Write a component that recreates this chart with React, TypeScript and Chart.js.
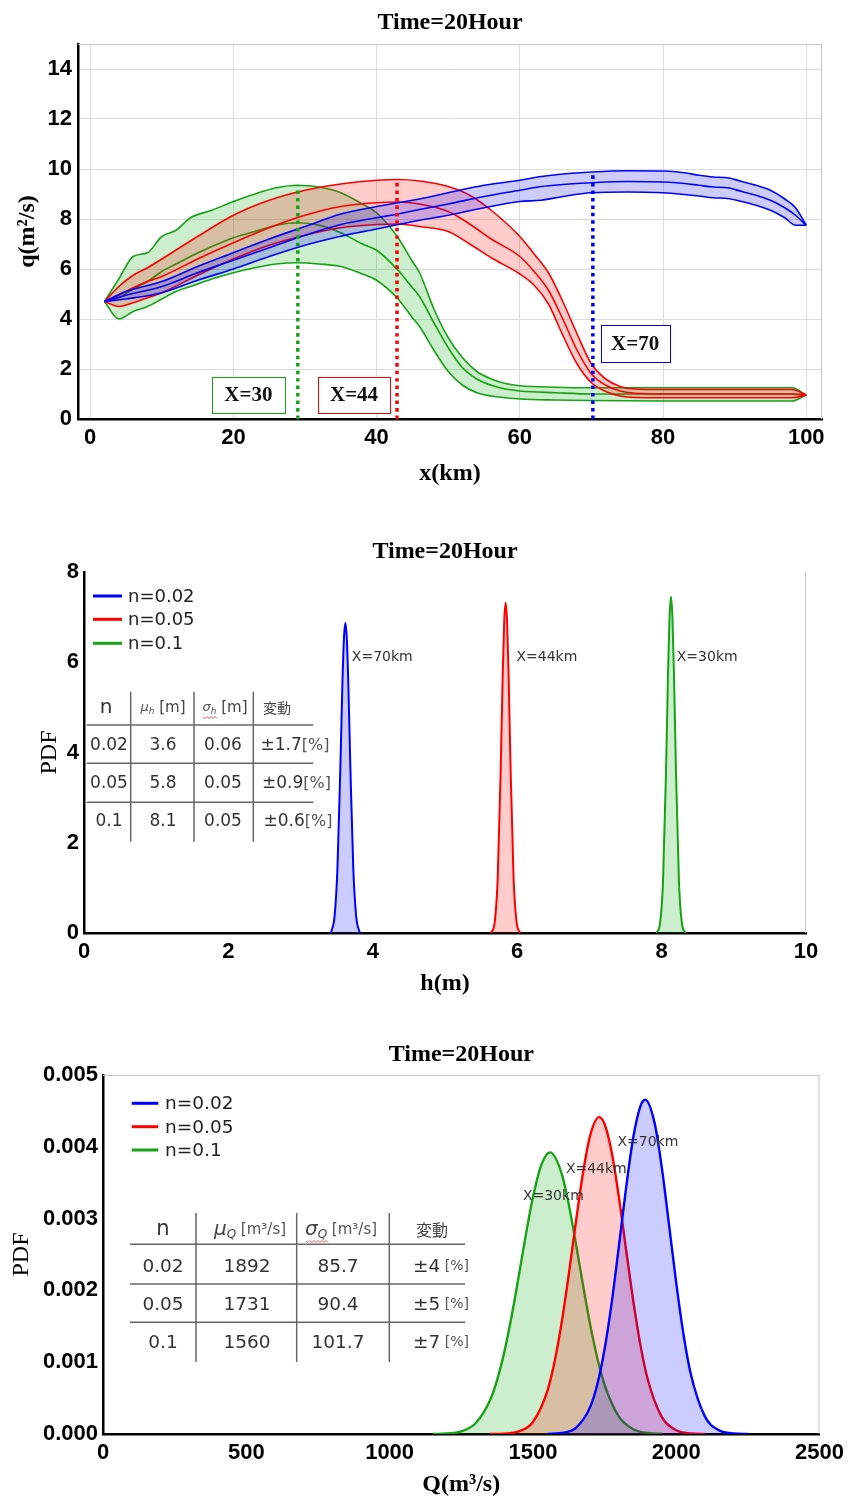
import React, { useEffect, useRef } from "react";
import { Chart, registerables } from "chart.js";

Chart.register(...registerables);

// ------------------------------------------------------------------
// Shared labels / colours
// ------------------------------------------------------------------
const TITLE = "Time=20Hour";
const SERIES_NAMES = ["n=0.02", "n=0.05", "n=0.1"];
const LINE_COLORS = ["#0000ff", "#ff0000", "#16a316"];
const FILL_COLORS = ["rgba(0,0,255,0.2)", "rgba(255,0,0,0.2)", "rgba(0,170,0,0.2)"];

// ------------------------------------------------------------------
// Panel 1 : q(m2/s) along x(km) — mean and ± band for each n
// ------------------------------------------------------------------
const blueX = [2, 5, 10, 15, 20, 25, 30, 35, 40, 43, 46, 50, 55, 60, 63, 66, 70, 75, 80, 83, 85, 87, 89, 91, 93, 95, 97, 98.5, 100];
const blueUpper = [4.7, 5.1, 5.5, 6.1, 6.65, 7.2, 7.7, 8.2, 8.5, 8.65, 8.8, 9.05, 9.35, 9.55, 9.7, 9.8, 9.88, 9.93, 9.92, 9.85, 9.75, 9.68, 9.65, 9.5, 9.35, 9.15, 8.8, 8.45, 7.75];
const blueMid = [4.7, 4.95, 5.3, 5.85, 6.35, 6.85, 7.35, 7.78, 8.05, 8.2, 8.38, 8.6, 8.9, 9.15, 9.3, 9.38, 9.45, 9.5, 9.48, 9.42, 9.35, 9.28, 9.25, 9.1, 8.95, 8.75, 8.45, 8.15, 7.75];
const blueLower = [4.7, 4.8, 5.05, 5.55, 6.0, 6.5, 6.95, 7.31, 7.6, 7.78, 7.95, 8.15, 8.45, 8.7, 8.75, 8.9, 9.05, 9.08, 9.05, 8.98, 8.92, 8.85, 8.82, 8.7, 8.55, 8.35, 8.05, 7.75, 7.75];

const redX = [2, 4, 6, 8, 10, 15, 20, 25, 30, 35, 40, 43, 46, 50, 53, 56, 60, 62, 64, 66, 68, 70, 72, 74, 76, 80, 90, 98, 100];
const redUpper = [4.7, 5.3, 5.75, 6.05, 6.4, 7.3, 8.15, 8.75, 9.15, 9.4, 9.55, 9.58, 9.52, 9.3, 8.95, 8.35, 7.3, 6.6, 5.85, 4.7, 3.4, 2.2, 1.6, 1.3, 1.2, 1.18, 1.18, 1.18, 0.96];
const redMid = [4.7, 4.95, 5.25, 5.5, 5.7, 6.4, 7.05, 7.65, 8.15, 8.5, 8.65, 8.68, 8.6, 8.3, 7.8, 7.2, 6.5, 5.9, 5.15, 4.0, 2.75, 1.8, 1.35, 1.12, 1.03, 1.0, 1.0, 1.0, 0.96];
const redLower = [4.7, 4.5, 4.65, 4.85, 5.05, 5.75, 6.4, 6.95, 7.35, 7.65, 7.78, 7.8, 7.7, 7.5, 7.0, 6.45, 5.8, 5.35, 4.6, 3.35, 2.2, 1.45, 1.1, 0.92, 0.86, 0.85, 0.85, 0.85, 0.96];

const greenX = [2, 4, 6, 8, 10, 12, 14, 17, 20, 23, 26, 29, 32, 35, 38, 40, 43, 45, 46, 48, 50, 52, 54, 56, 58, 60, 65, 70, 80, 90, 98, 100];
const greenUpper = [4.7, 5.6, 6.5, 6.65, 7.3, 7.55, 8.05, 8.35, 8.7, 9.0, 9.25, 9.35, 9.28, 9.05, 8.6, 8.25, 7.25, 6.3, 5.85, 4.4, 3.25, 2.45, 1.9, 1.6, 1.42, 1.33, 1.27, 1.25, 1.25, 1.25, 1.25, 0.96];
const greenMid = [4.7, 4.85, 5.2, 5.5, 5.9, 6.2, 6.5, 6.9, 7.25, 7.5, 7.75, 7.85, 7.75, 7.45, 7.0, 6.75, 5.95, 5.25, 4.9, 3.85, 2.85, 2.05, 1.6, 1.35, 1.2, 1.12, 1.05, 1.0, 1.0, 1.0, 1.0, 0.96];
const greenLower = [4.7, 4.0, 4.3, 4.5, 4.8, 5.1, 5.3, 5.6, 5.85, 6.05, 6.2, 6.25, 6.2, 6.1, 5.8, 5.55, 4.8, 4.05, 3.7, 2.75, 1.9, 1.35, 1.05, 0.92, 0.85, 0.8, 0.76, 0.74, 0.72, 0.72, 0.72, 0.96];

// dotted section markers
const markerX = [29, 42.85, 70.2];
const markerTop = [9.35, 9.59, 9.9];
const markerSeries = [2, 1, 0];
const markerLabels = ["X=30", "X=44", "X=70"];

// ------------------------------------------------------------------
// Panel 2 : PDF of h(m)
// ------------------------------------------------------------------
const hBlueX = [3.42, 3.47, 3.51, 3.55, 3.58, 3.6, 3.62, 3.64, 3.66, 3.69, 3.73, 3.77, 3.82];
const hBlueY = [0, 0.37, 1.42, 3.63, 5.58, 6.52, 6.87, 6.52, 5.58, 3.63, 1.42, 0.37, 0];
const hRedX = [5.64, 5.69, 5.73, 5.77, 5.8, 5.82, 5.84, 5.86, 5.88, 5.91, 5.95, 5.99, 6.04];
const hRedY = [0, 0.26, 1.21, 3.53, 5.77, 6.9, 7.32, 6.9, 5.77, 3.53, 1.21, 0.26, 0];
const hGreenX = [7.93, 7.98, 8.02, 8.06, 8.09, 8.11, 8.13, 8.15, 8.17, 8.2, 8.24, 8.28, 8.33];
const hGreenY = [0, 0.23, 1.16, 3.51, 5.82, 7.0, 7.45, 7.0, 5.82, 3.51, 1.16, 0.23, 0];

const peakLabels = ["X=70km", "X=44km", "X=30km"];
const hLabelX = [3.71, 5.99, 8.21];
const hLabelY = [6.11, 6.11, 6.11];

const tableN = ["0.02", "0.05", "0.1"];
const hMean = ["3.6", "5.8", "8.1"];
const hStd = ["0.06", "0.05", "0.05"];
const hVar = ["±1.7", "±0.9", "±0.6"];

// ------------------------------------------------------------------
// Panel 3 : PDF of Q(m3/s)
// ------------------------------------------------------------------
const qBlueX = [1550, 1600, 1650, 1700, 1725, 1750, 1775, 1800, 1825, 1850, 1875, 1892, 1925, 1950, 1975, 2000, 2025, 2050, 2100, 2150, 2200, 2250];
const qBlueY = [0.0000016, 0.000014, 0.0000864, 0.000378, 0.000697, 0.00118, 0.001833, 0.002616, 0.003429, 0.00413, 0.004564, 0.004655, 0.004323, 0.003702, 0.002912, 0.002104, 0.001396, 0.00085, 0.000245, 0.0000501, 0.0000073, 0];
const qRedX = [1350, 1400, 1450, 1500, 1550, 1575, 1600, 1625, 1650, 1675, 1700, 1731, 1750, 1775, 1800, 1825, 1850, 1875, 1900, 1950, 2000, 2050, 2100];
const qRedY = [0.0000006, 0.0000054, 0.0000352, 0.000168, 0.000595, 0.000996, 0.001544, 0.002219, 0.002954, 0.003643, 0.004161, 0.004413, 0.004317, 0.00392, 0.003299, 0.00257, 0.001856, 0.001241, 0.000769, 0.000234, 0.0000527, 0.0000087, 0.000001];
const qGreenX = [1150, 1200, 1250, 1300, 1350, 1375, 1400, 1425, 1450, 1475, 1500, 1530, 1560, 1600, 1625, 1650, 1675, 1700, 1725, 1750, 1800, 1850, 1900, 1950];
const qGreenY = [0.0000012, 0.0000075, 0.0000377, 0.00015, 0.000465, 0.00075, 0.001138, 0.001626, 0.002185, 0.002767, 0.003296, 0.003756, 0.003923, 0.003631, 0.003198, 0.002652, 0.00207, 0.00152, 0.001052, 0.000685, 0.000242, 0.0000672, 0.0000147, 0.0000025];

const qLabelX = [1795, 1615, 1465];
const qLabelY = [0.004057, 0.003687, 0.003305];

const qMean = ["1892", "1731", "1560"];
const qStd = ["85.7", "90.4", "101.7"];
const qVar = ["±4", "±5", "±7"];

// ------------------------------------------------------------------
// Fonts & helpers
// ------------------------------------------------------------------
const SANS = "'Liberation Sans', Arial, sans-serif";
const SERIF = "'Liberation Serif', 'Times New Roman', serif";
const VERD = "'DejaVu Sans', Verdana, sans-serif";
const CJK = "'Noto Sans CJK JP', 'Noto Sans CJK SC', sans-serif";

const tickFont = { family: SANS, size: 22, weight: "bold" as const };
const titleFontBold = { family: SERIF, size: 24, weight: "bold" as const };
const titleFontReg = { family: SERIF, size: 24, weight: "normal" as const };

const pts = (xs: number[], ys: number[]) => xs.map((x, i) => ({ x, y: ys[i] }));

type Seg = { t: string; font: string; color?: string; dy?: number };

function richWidth(ctx: CanvasRenderingContext2D, segs: Seg[]) {
  let w = 0;
  for (const s of segs) {
    ctx.font = s.font;
    w += ctx.measureText(s.t).width;
  }
  return w;
}

function drawRich(ctx: CanvasRenderingContext2D, segs: Seg[], x: number, y: number, align: "left" | "center") {
  let cx = align === "center" ? x - richWidth(ctx, segs) / 2 : x;
  ctx.textAlign = "left";
  ctx.textBaseline = "middle";
  for (const s of segs) {
    ctx.font = s.font;
    ctx.fillStyle = s.color || "#333";
    ctx.fillText(s.t, cx, y + (s.dy || 0));
    cx += ctx.measureText(s.t).width;
  }
}

function seg(ctx: CanvasRenderingContext2D, x1: number, y1: number, x2: number, y2: number) {
  ctx.beginPath();
  ctx.moveTo(x1, y1);
  ctx.lineTo(x2, y2);
  ctx.stroke();
}

function squiggle(ctx: CanvasRenderingContext2D, x: number, y: number, w: number) {
  ctx.save();
  ctx.strokeStyle = "#e05050";
  ctx.lineWidth = 1;
  ctx.beginPath();
  ctx.moveTo(x, y);
  for (let i = 0; i * 2 < w; i++) ctx.lineTo(x + i * 2 + 2, y + (i % 2 === 0 ? 1.5 : -0.5));
  ctx.stroke();
  ctx.restore();
}

function drawTitle(chart: any, y: number) {
  const { ctx, chartArea } = chart;
  ctx.save();
  ctx.font = `bold 24px ${SERIF}`;
  ctx.fillStyle = "#000";
  ctx.textAlign = "center";
  ctx.textBaseline = "middle";
  ctx.fillText(TITLE, (chartArea.left + chartArea.right) / 2, y);
  ctx.restore();
}

function drawFrame(chart: any, top: boolean) {
  const { ctx, chartArea } = chart;
  ctx.save();
  ctx.strokeStyle = "#c8c8c8";
  ctx.lineWidth = 1;
  if (top) seg(ctx, chartArea.left, chartArea.top + 0.5, chartArea.right, chartArea.top + 0.5);
  seg(ctx, chartArea.right - 0.5, chartArea.top, chartArea.right - 0.5, chartArea.bottom);
  ctx.restore();
}

function drawLegend(chart: any, x0: number, x1: number, xt: number, ys: number[], size: number) {
  const { ctx, chartArea } = chart;
  ctx.save();
  const L = chartArea.left;
  const T = chartArea.top;
  SERIES_NAMES.forEach((name, i) => {
    ctx.strokeStyle = LINE_COLORS[i];
    ctx.lineWidth = 3;
    seg(ctx, L + x0, T + ys[i], L + x1, T + ys[i]);
    ctx.font = `${size}px ${VERD}`;
    ctx.fillStyle = "#222";
    ctx.textAlign = "left";
    ctx.textBaseline = "middle";
    ctx.fillText(name, L + xt, T + ys[i] + 1);
  });
  ctx.restore();
}

function drawPeakLabels(chart: any, xs: number[], ys: number[]) {
  const { ctx, scales } = chart;
  ctx.save();
  ctx.font = `14px ${VERD}`;
  ctx.fillStyle = "#333";
  ctx.textAlign = "left";
  ctx.textBaseline = "middle";
  peakLabels.forEach((t, i) => {
    ctx.fillText(t, scales.x.getPixelForValue(xs[i]), scales.y.getPixelForValue(ys[i]));
  });
  ctx.restore();
}

function baseScale(opts: any) {
  return {
    type: "linear",
    min: opts.min,
    max: opts.max,
    z: opts.z || 0,
    afterFit: opts.fit,
    ticks: {
      stepSize: opts.step,
      includeBounds: false,
      autoSkip: false,
      maxRotation: 0,
      font: tickFont,
      color: "#000",
      padding: opts.tickPad,
      callback: opts.fmt || ((v: any) => String(v)),
    },
    grid: {
      display: true,
      drawTicks: false,
      color: opts.grid ? "#dcdcdc" : "rgba(0,0,0,0)",
      lineWidth: 1,
    },
    border: { display: true, color: "#000", width: 2.5 },
    title: {
      display: true,
      text: opts.title,
      font: opts.titleFont,
      color: "#000",
      padding: opts.titlePad,
    },
  };
}

const commonOpts = {
  animation: false,
  responsive: false,
  devicePixelRatio: 1,
  events: [],
  elements: {
    point: { radius: 0, hoverRadius: 0 },
    line: { cubicInterpolationMode: "monotone" },
  },
};

// ------------------------------------------------------------------
// Chart configs
// ------------------------------------------------------------------
function config1(): any {
  const bands = [
    [blueX, blueUpper, blueMid, blueLower],
    [redX, redUpper, redMid, redLower],
    [greenX, greenUpper, greenMid, greenLower],
  ];
  const markerDs = markerX.map((x, i) => ({
    data: [{ x, y: 0 }, { x, y: markerTop[i] }],
    borderColor: LINE_COLORS[markerSeries[i]],
    borderWidth: 3.5,
    borderDash: [3.5, 4],
    fill: false,
    pointRadius: 0,
  }));
  const bandDs: any[] = [];
  bands.forEach(([xs, up, mid, lo], i) => {
    bandDs.push({ data: pts(xs, up), borderColor: LINE_COLORS[i], borderWidth: 1.6, fill: "+2", backgroundColor: FILL_COLORS[i] });
    bandDs.push({ data: pts(xs, mid), borderColor: LINE_COLORS[i], borderWidth: 1.6, fill: false });
    bandDs.push({ data: pts(xs, lo), borderColor: LINE_COLORS[i], borderWidth: 1.6, fill: false });
  });

  const boxes = [
    { x0: 17.0, x1: 27.2, y0: 1.69, y1: 0.24 },
    { x0: 31.8, x1: 41.9, y0: 1.69, y1: 0.24 },
    { x0: 71.3, x1: 80.9, y0: 3.77, y1: 2.29 },
  ];

  const overlay = {
    id: "p1overlay",
    beforeDatasetsDraw(chart: any) {
      drawFrame(chart, true);
    },
    afterDatasetsDraw(chart: any) {
      const { ctx, scales } = chart;
      ctx.save();
      boxes.forEach((b, i) => {
        const x0 = scales.x.getPixelForValue(b.x0);
        const x1 = scales.x.getPixelForValue(b.x1);
        const y0 = scales.y.getPixelForValue(b.y0);
        const y1 = scales.y.getPixelForValue(b.y1);
        ctx.fillStyle = "#fff";
        ctx.fillRect(x0, y0, x1 - x0, y1 - y0);
        ctx.strokeStyle = LINE_COLORS[markerSeries[i]];
        ctx.lineWidth = 1;
        ctx.strokeRect(Math.round(x0) + 0.5, Math.round(y0) + 0.5, Math.round(x1 - x0), Math.round(y1 - y0));
        ctx.font = `bold 21px ${SERIF}`;
        ctx.fillStyle = "#111";
        ctx.textAlign = "center";
        ctx.textBaseline = "middle";
        ctx.fillText(markerLabels[i], (x0 + x1) / 2, (y0 + y1) / 2 + 1);
      });
      ctx.restore();
    },
    afterDraw(chart: any) {
      drawTitle(chart, 23);
    },
  };

  return {
    type: "line",
    data: { datasets: [...markerDs, ...bandDs] },
    options: {
      ...commonOpts,
      layout: { padding: { left: 0, right: 28, top: 44, bottom: 0 } },
      plugins: { legend: { display: false }, tooltip: { enabled: false } },
      scales: {
        x: baseScale({
          min: -1.7, max: 102.2, step: 20, tickPad: 6, grid: true,
          fit: (s: any) => { s.height = 81; },
          title: "x(km)", titleFont: titleFontBold, titlePad: { top: 0, bottom: 12 },
        }),
        y: baseScale({
          min: 0, max: 15, step: 2, tickPad: 6, grid: true,
          fit: (s: any) => { s.width = 78; },
          title: "q(m²/s)", titleFont: titleFontBold, titlePad: { top: 13.6, bottom: 0 },
        }),
      },
    },
    plugins: [overlay],
  };
}

function config2(): any {
  const curves = [[hBlueX, hBlueY], [hRedX, hRedY], [hGreenX, hGreenY]];
  const datasets = curves.map(([xs, ys], i) => ({
    label: SERIES_NAMES[i],
    data: pts(xs, ys),
    borderColor: LINE_COLORS[i],
    borderWidth: 2,
    fill: "origin",
    backgroundColor: FILL_COLORS[i],
  }));

  const overlay = {
    id: "p2overlay",
    beforeDatasetsDraw(chart: any) {
      drawFrame(chart, false);
    },
    afterDatasetsDraw(chart: any) {
      const { ctx, chartArea } = chart;
      const L = chartArea.left;
      const T = chartArea.top;
      drawLegend(chart, 9, 38, 44, [24, 47.3, 71.3], 18);
      drawPeakLabels(chart, hLabelX, hLabelY);

      ctx.save();
      ctx.strokeStyle = "#666";
      ctx.lineWidth = 1.5;
      [46.7, 110, 169.3].forEach((dx) => seg(ctx, L + dx, T + 119.7, L + dx, T + 269.7));
      [153, 191.3, 230.3].forEach((dy) => seg(ctx, L + 2.7, T + dy, L + 229.3, T + dy));

      const hy = T + 136;
      drawRich(ctx, [{ t: "n", font: `20px ${VERD}` }], L + 22, hy, "center");
      drawRich(ctx, [
        { t: "μ", font: `italic 13px ${VERD}`, color: "#555" },
        { t: "h", font: `italic 9px ${VERD}`, color: "#555", dy: 4 },
        { t: " [m]", font: `15px ${VERD}`, color: "#444" },
      ], L + 79, hy, "center");
      drawRich(ctx, [
        { t: "σ", font: `italic 13px ${VERD}`, color: "#555" },
        { t: "h", font: `italic 9px ${VERD}`, color: "#555", dy: 4 },
        { t: " [m]", font: `15px ${VERD}`, color: "#444" },
      ], L + 141, hy, "center");
      squiggle(ctx, L + 119, hy + 9, 13);
      drawRich(ctx, [{ t: "変動", font: `14px ${CJK}`, color: "#444" }], L + 179, hy, "left");

      const rowY = [174, 212, 250];
      tableN.forEach((n, r) => {
        const y = T + rowY[r];
        drawRich(ctx, [{ t: n, font: `17px ${VERD}` }], L + 25, y, "center");
        drawRich(ctx, [{ t: hMean[r], font: `17px ${VERD}` }], L + 79, y, "center");
        drawRich(ctx, [{ t: hStd[r], font: `17px ${VERD}` }], L + 139, y, "center");
        drawRich(ctx, [
          { t: hVar[r], font: `17px ${VERD}` },
          { t: "[%]", font: `16px ${VERD}`, color: "#555" },
        ], L + 211 + r * 1.5, y, "center");
      });
      ctx.restore();
    },
    afterDraw(chart: any) {
      drawTitle(chart, 52);
    },
  };

  return {
    type: "line",
    data: { datasets },
    options: {
      ...commonOpts,
      layout: { padding: { left: 0, right: 44, top: 72, bottom: 0 } },
      plugins: { legend: { display: false }, tooltip: { enabled: false } },
      scales: {
        x: baseScale({
          min: 0, max: 10, step: 2, tickPad: 6, grid: false, z: 1,
          fit: (s: any) => { s.height = 67; },
          title: "h(m)", titleFont: titleFontBold, titlePad: { top: 0, bottom: 2 },
        }),
        y: baseScale({
          min: 0, max: 8, step: 2, tickPad: 5, grid: false,
          fit: (s: any) => { s.width = 84; },
          title: "PDF", titleFont: titleFontReg, titlePad: { top: 35.6, bottom: 0 },
        }),
      },
    },
    plugins: [overlay],
  };
}

function config3(): any {
  const curves = [[qBlueX, qBlueY], [qRedX, qRedY], [qGreenX, qGreenY]];
  const datasets = curves.map(([xs, ys], i) => ({
    label: SERIES_NAMES[i],
    data: pts(xs, ys),
    borderColor: LINE_COLORS[i],
    borderWidth: 2.4,
    fill: "origin",
    backgroundColor: FILL_COLORS[i],
  }));

  const overlay = {
    id: "p3overlay",
    beforeDatasetsDraw(chart: any) {
      drawFrame(chart, true);
    },
    afterDatasetsDraw(chart: any) {
      const { ctx, chartArea } = chart;
      const L = chartArea.left;
      const T = chartArea.top;
      drawLegend(chart, 28.7, 55.3, 62, [28.3, 51.7, 75], 18.5);
      drawPeakLabels(chart, qLabelX, qLabelY);

      ctx.save();
      ctx.strokeStyle = "#666";
      ctx.lineWidth = 1.5;
      [93, 193.7, 286.3].forEach((dx) => seg(ctx, L + dx, T + 138, L + dx, T + 287));
      [169.3, 209, 247.3].forEach((dy) => seg(ctx, L + 27, T + dy, L + 362, T + dy));

      const hy = T + 155;
      drawRich(ctx, [{ t: "n", font: `21px ${VERD}` }], L + 60, hy, "center");
      drawRich(ctx, [
        { t: "μ", font: `italic 20px ${VERD}`, color: "#444" },
        { t: "Q", font: `italic 12px ${VERD}`, color: "#444", dy: 5 },
        { t: " [m³/s]", font: `15px ${VERD}`, color: "#555" },
      ], L + 147, hy, "center");
      drawRich(ctx, [
        { t: "σ", font: `italic 20px ${VERD}`, color: "#444" },
        { t: "Q", font: `italic 12px ${VERD}`, color: "#444", dy: 5 },
        { t: " [m³/s]", font: `15px ${VERD}`, color: "#555" },
      ], L + 238, hy, "center");
      squiggle(ctx, L + 203, hy + 11, 22);
      drawRich(ctx, [{ t: "変動", font: `16px ${CJK}`, color: "#444" }], L + 329, hy, "center");

      const rowY = [192.3, 230, 268.3];
      tableN.forEach((n, r) => {
        const y = T + rowY[r];
        drawRich(ctx, [{ t: n, font: `18.5px ${VERD}` }], L + 60, y, "center");
        drawRich(ctx, [{ t: qMean[r], font: `18.5px ${VERD}` }], L + 144, y, "center");
        drawRich(ctx, [{ t: qStd[r], font: `18.5px ${VERD}` }], L + 235, y, "center");
        drawRich(ctx, [
          { t: qVar[r], font: `18.5px ${VERD}` },
          { t: " [%]", font: `14px ${VERD}`, color: "#555", dy: -1 },
        ], L + 338, y, "center");
      });
      ctx.restore();
    },
    afterDraw(chart: any) {
      drawTitle(chart, 55);
    },
  };

  return {
    type: "line",
    data: { datasets },
    options: {
      ...commonOpts,
      layout: { padding: { left: 0, right: 28, top: 75, bottom: 0 } },
      plugins: { legend: { display: false }, tooltip: { enabled: false } },
      scales: {
        x: baseScale({
          min: 0, max: 2500, step: 500, tickPad: 6, grid: false, z: 1,
          fit: (s: any) => { s.height = 65; },
          title: "Q(m³/s)", titleFont: titleFontBold, titlePad: { top: 0, bottom: 0 },
        }),
        y: baseScale({
          min: 0, max: 0.005, step: 0.001, tickPad: 5, grid: false,
          fit: (s: any) => { s.width = 103; },
          fmt: (v: any) => Number(v).toFixed(3),
          title: "PDF", titleFont: titleFontReg, titlePad: { top: 7.6, bottom: 0 },
        }),
      },
    },
    plugins: [overlay],
  };
}

// ------------------------------------------------------------------
// Component
// ------------------------------------------------------------------
export default function App() {
  const r1 = useRef<HTMLCanvasElement>(null);
  const r2 = useRef<HTMLCanvasElement>(null);
  const r3 = useRef<HTMLCanvasElement>(null);

  useEffect(() => {
    const c1 = new Chart(r1.current as HTMLCanvasElement, config1());
    const c2 = new Chart(r2.current as HTMLCanvasElement, config2());
    const c3 = new Chart(r3.current as HTMLCanvasElement, config3());
    return () => {
      c1.destroy();
      c2.destroy();
      c3.destroy();
    };
  }, []);

  const cv = (top: number, h: number): React.CSSProperties => ({
    position: "absolute",
    left: 0,
    top,
    width: 850,
    height: h,
    display: "block",
  });

  return (
    <div style={{ position: "absolute", left: 0, top: 0, width: 850, height: 1499, background: "#fff", overflow: "hidden" }}>
      <canvas ref={r1} width={850} height={500} style={cv(0, 500)} />
      <canvas ref={r2} width={850} height={500} style={cv(500, 500)} />
      <canvas ref={r3} width={850} height={499} style={cv(1000, 499)} />
    </div>
  );
}
